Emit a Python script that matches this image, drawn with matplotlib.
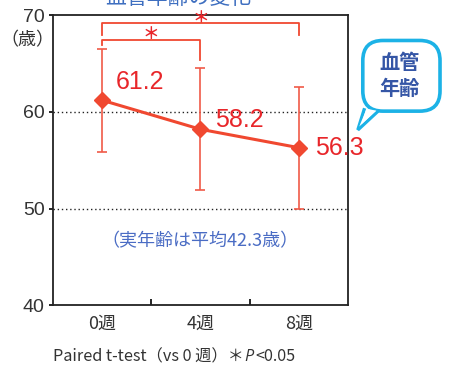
import matplotlib
matplotlib.use("Agg")
import matplotlib.pyplot as plt
from matplotlib.patches import FancyBboxPatch, Polygon

plt.rcParams['font.family'] = ['Noto Sans CJK JP', 'DejaVu Sans']

# Data
weeks = ['0週', '4週', '8週']
means = [61.2, 58.2, 56.3]
sd = [5.3, 6.3, 6.3]
value_labels = ['61.2', '58.2', '56.3']
y_ticks = [40, 50, 60, 70]

LINE = '#f04830'
TXT_RED = '#e8262a'
BLUE = '#3556a6'
CYAN = '#1cb2e6'
DARK = '#333333'

fig = plt.figure(figsize=(4.49, 3.68), dpi=100)
ax = fig.add_axes([0.118, 0.170, 0.657, 0.789])

x = list(range(len(weeks)))
ax.errorbar(x, means, yerr=sd, fmt='none', ecolor='#f05a48', elinewidth=1.2,
            capsize=3.5, capthick=1.2, zorder=2)
ax.plot(x, means, color=LINE, lw=2.2, marker='D', markersize=8,
        markerfacecolor=LINE, markeredgecolor=LINE, zorder=3)

# value labels
offsets = [(0.14, 1.9), (0.15, 1.0), (0.16, 0.0)]
for xi, m, lab, (dx, dy) in zip(x, means, value_labels, offsets):
    ax.text(xi + dx, m + dy, lab, color=TXT_RED, fontsize=18,
            ha='left', va='center', family='Liberation Sans', clip_on=False)

# significance brackets (vs 0週)
brackets = [(0, 1, 67.45, 66.9, 65.35), (0, 2, 69.2, 67.95, 67.95)]
for x0, x1, top, l0, l1 in brackets:
    ax.plot([x0, x0, x1, x1], [l0, top, top, l1], color=LINE, lw=1.3,
            clip_on=False, zorder=4)
    ax.text((x0 + x1) / 2, top + 0.55, '＊', color=TXT_RED, fontsize=12,
            fontweight='bold', ha='center', va='center', clip_on=False)

# reference lines
for yv in [50, 60]:
    ax.axhline(yv, color='#222222', lw=1.0, ls=(0, (1, 2)), zorder=1)

ax.text(1, 46.6, '（実年齢は平均42.3歳）', color='#4a6cc4', fontsize=13,
        ha='center', va='center')

ax.set_xlim(-0.5, 2.5)
ax.set_ylim(40, 70)
ax.set_xticks(x)
ax.set_xticklabels(weeks, fontsize=13, color=DARK)
ax.set_xticks([0.5, 1.5], minor=True)
ax.tick_params(axis='x', which='major', length=0, pad=7)
ax.tick_params(axis='x', which='minor', direction='in', length=4, width=1.2)
ax.set_yticks(y_ticks)
ax.set_yticklabels([str(v) for v in y_ticks], fontsize=14, color=DARK,
                   family='Liberation Sans')
ax.tick_params(axis='y', length=3, width=1.2, pad=3)
for s in ax.spines.values():
    s.set_linewidth(1.3)
    s.set_color('#222222')

fig.text(0.062, 0.890, '（歳）', fontsize=13, color=DARK, ha='center', va='center')

# title, partly outside the top edge
fig.text(0.397, 1.006, '血管年齢の変化', fontsize=15, color='#3f6fc0',
         ha='center', va='center')

# footnote with italic P, pieces laid out left to right
renderer = fig.canvas.get_renderer()
fx = 0.118
for piece, kw in [('Paired t-test（vs 0 週）＊', {}),
                  ('P', {'style': 'italic', 'family': 'Open Sans'}),
                  ('<0.05', {})]:
    t = fig.text(fx, 0.030, piece, fontsize=11.7, color=DARK,
                 ha='left', va='center', **kw)
    fx = t.get_window_extent(renderer=renderer).x1 / fig.bbox.width + 0.002

# speech bubble
bub = FancyBboxPatch((0.808, 0.698), 0.172, 0.192,
                     boxstyle='round,pad=0,rounding_size=0.045',
                     transform=fig.transFigure, facecolor='white',
                     edgecolor=CYAN, lw=2.6, zorder=5, mutation_aspect=449/368)
fig.patches.append(bub)
tail = Polygon([(0.812, 0.706), (0.797, 0.647), (0.842, 0.698)],
               closed=False, transform=fig.transFigure, facecolor='white',
               edgecolor=CYAN, lw=2.4, zorder=6)
fig.patches.append(tail)
fig.patches.append(Polygon([(0.815, 0.700), (0.800, 0.656), (0.838, 0.699)],
                           closed=True, transform=fig.transFigure,
                           facecolor='white', edgecolor='none', zorder=7))
fig.text(0.889, 0.831, '血管', fontsize=14.5, color=BLUE, fontweight='bold',
         ha='center', va='center', zorder=8)
fig.text(0.889, 0.760, '年齢', fontsize=14.5, color=BLUE, fontweight='bold',
         ha='center', va='center', zorder=8)

fig.savefig('out.png', dpi=100)
